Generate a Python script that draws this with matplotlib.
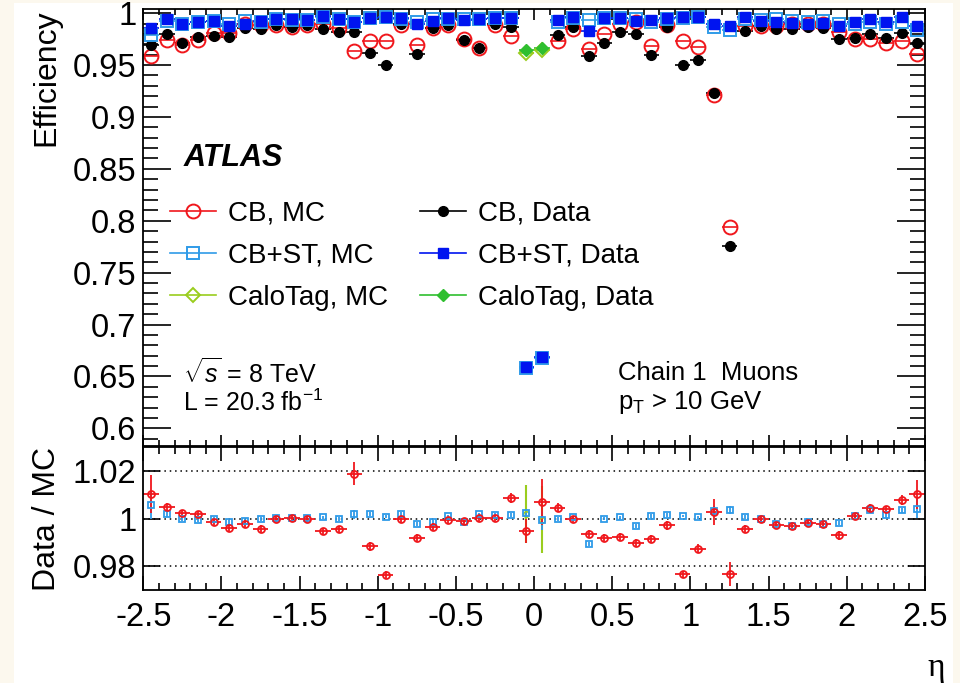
import numpy as np
import matplotlib
matplotlib.use("Agg")
import matplotlib.pyplot as plt
from matplotlib.lines import Line2D
from matplotlib.patches import Rectangle
from matplotlib.ticker import MultipleLocator, FuncFormatter

plt.rcParams['font.family'] = ['Liberation Sans', 'DejaVu Sans']
plt.rcParams['mathtext.fontset'] = 'custom'
plt.rcParams['mathtext.rm'] = 'Liberation Sans'
plt.rcParams['mathtext.it'] = 'Liberation Sans:italic'

# 50 eta bins of width 0.1, centres -2.45 ... 2.45
eta = np.round(np.arange(-2.45, 2.5, 0.1), 2)
half_bin = 0.05
nan = np.nan

# efficiencies (top panel); CB points at |eta|<0.1 are below the axis range
cb_mc = [0.959, 0.974, 0.969, 0.974, 0.9804, 0.981, 0.9897, 0.989, 0.989, 0.987,
         0.9884, 0.9897, 0.986, 0.9637, 0.9727, 0.9727, 0.9888, 0.969, 0.986, 0.9888,
         0.975, 0.966, 0.9884, 0.978, nan, nan, 0.9727, 0.985, 0.9653, 0.980,
         0.9897, 0.991, 0.9686, 0.989, 0.9727, 0.967, 0.9207, 0.794, 0.988, 0.988,
         0.988, 0.9897, 0.9897, 0.9897, 0.9817, 0.975, 0.975, 0.971, 0.9727, 0.961]
cb_data = [0.9695, 0.980, 0.9717, 0.9769, 0.978, 0.9769, 0.986, 0.9846, 0.989, 0.987,
           0.9884, 0.9846, 0.9814, 0.9817, 0.9615, 0.950, 0.9894, 0.961, 0.9856, 0.9888,
           0.9737, 0.966, 0.9897, 0.987, nan, nan, 0.979, 0.9865, 0.959, 0.971,
           0.982, 0.980, 0.9596, 0.9865, 0.950, 0.9544, 0.923, 0.776, 0.9826, 0.988,
           0.9846, 0.9846, 0.9865, 0.986, 0.9753, 0.976, 0.980, 0.976, 0.9805, 0.971]
cbst_mc = [0.979, 0.992, 0.9897, 0.9917, 0.9923, 0.9897, 0.9923, 0.9917, 0.994, 0.9936,
           0.9936, 0.9962, 0.994, 0.991, 0.9952, 0.9962, 0.9945, 0.991, 0.994, 0.9945,
           0.994, 0.994, 0.9952, 0.9952, 0.658, 0.668, 0.9917, 0.995, 0.9936, 0.9952,
           0.9952, 0.994, 0.9917, 0.9945, 0.9952, 0.996, 0.9865, 0.984, 0.994, 0.9936,
           0.994, 0.992, 0.9917, 0.992, 0.990, 0.9897, 0.9917, 0.9897, 0.9917, 0.984]
cbst_data = [0.9855, 0.9945, 0.990, 0.9917, 0.9923, 0.9878, 0.990, 0.992, 0.9945, 0.994,
             0.9936, 0.9968, 0.9945, 0.991, 0.9952, 0.9962, 0.9955, 0.990, 0.992, 0.9955,
             0.9936, 0.9945, 0.9955, 0.9955, 0.659, 0.669, 0.993, 0.996, 0.983, 0.9955,
             0.9955, 0.992, 0.9936, 0.9955, 0.9962, 0.9962, 0.9897, 0.9878, 0.9962, 0.992,
             0.991, 0.9904, 0.9897, 0.9904, 0.988, 0.9917, 0.994, 0.9917, 0.9962, 0.988]

calo_eta = [-0.05, 0.05]
calo_mc = [0.9615, 0.9645]
calo_data = [0.964, 0.966]

# data / MC ratios (bottom panel)
ratio_cb = [1.0102, 1.0049, 1.0022, 1.0021, 0.9986, 0.9962, 0.9979, 0.9958, 0.9997, 1.0003,
            1.0, 0.9948, 0.9955, 1.0189, 0.9883, 0.9764, 1.0, 0.992, 0.9966, 0.9994,
            0.999, 1.0003, 1.0004, 1.0088, 0.9947, 1.0071, 1.0046, 1.0, 0.9937, 0.992,
            0.9924, 0.9899, 0.9916, 0.9972, 0.9766, 0.9874, 1.0028, 0.9766, 0.9958, 1.0,
            0.9975, 0.9969, 0.9983, 0.9976, 0.993, 1.0011, 1.0046, 1.0039, 1.0078, 1.0102]
ratio_cb_err = [0.008, 0.0018, 0.0013, 0.0013, 0.0013, 0.0015, 0.0015, 0.0015, 0.0012, 0.0012,
                0.0012, 0.0012, 0.0015, 0.0049, 0.0018, 0.0015, 0.0012, 0.0015, 0.0015, 0.0012,
                0.0012, 0.0012, 0.0012, 0.002, 0.005, 0.0096, 0.002, 0.0012, 0.0015, 0.0015,
                0.0015, 0.0015, 0.0015, 0.0018, 0.0015, 0.0018, 0.0055, 0.005, 0.0015, 0.0015,
                0.0015, 0.0015, 0.0015, 0.0015, 0.0018, 0.0012, 0.0015, 0.0015, 0.002, 0.006]
ratio_cbst = [1.0056, 1.0018, 0.9997, 0.9994, 1.0, 0.9986, 0.9989, 1.0, 1.0001, 1.0004,
              1.0001, 1.0006, 1.0, 1.0018, 1.002, 1.0008, 1.002, 0.9976, 0.9986, 1.0011,
              0.9986, 1.0018, 1.0017, 1.0017, 1.0022, 0.9993, 1.0, 1.0007, 0.9892, 1.0,
              1.0006, 0.9969, 1.0011, 1.0014, 1.0011, 1.0006, 1.0032, 1.0036, 1.0008, 1.0,
              0.9976, 0.9969, 0.9986, 0.9976, 0.9983, 1.0011, 1.0035, 1.0014, 1.0035, 1.0042]
ratio_cbst_err = [0.0057, 0.001, 0.0008, 0.0008, 0.0008, 0.001, 0.001, 0.0008, 0.0006, 0.0006,
                  0.0006, 0.0006, 0.0008, 0.002, 0.001, 0.0006, 0.0008, 0.0008, 0.0008, 0.0006,
                  0.0006, 0.0006, 0.0006, 0.0008, 0.0015, 0.004, 0.0008, 0.0006, 0.0008, 0.0006,
                  0.0006, 0.0008, 0.0008, 0.0008, 0.0006, 0.0006, 0.002, 0.0016, 0.0008, 0.0008,
                  0.0008, 0.0006, 0.0008, 0.0008, 0.0008, 0.0008, 0.001, 0.001, 0.001, 0.004]
ratio_calo = [1.0021, 0.9996]
ratio_calo_err = [0.0122, 0.0141]

RED = '#f0171c'
BLACK = '#000000'
LBLUE = '#2f9be8'
BLUE = '#0014f0'
YGREEN = '#9acd1e'
GREEN = '#2fbf2f'


def style_axes(ax, xmaj, xmin, ymaj, ymin):
    ax.tick_params(which='both', direction='in', top=True, right=True,
                   width=1.2, labelsize=23.5, pad=5)
    ax.tick_params(axis='x', which='major', length=xmaj, pad=9)
    ax.tick_params(axis='x', which='minor', length=xmin)
    ax.tick_params(axis='y', which='major', length=ymaj)
    ax.tick_params(axis='y', which='minor', length=ymin)
    for sp in ax.spines.values():
        sp.set_linewidth(1.3)
    ax.xaxis.set_major_locator(MultipleLocator(0.5))
    ax.xaxis.set_minor_locator(MultipleLocator(0.1))
    ax.xaxis.set_major_formatter(FuncFormatter(lambda v, p: '%g' % round(v, 3)))
    ax.yaxis.set_major_formatter(FuncFormatter(lambda v, p: '%g' % round(v, 4)))


fig = plt.figure(figsize=(9.6, 6.83), dpi=100)
fig.patch.set_facecolor('#fcf8ee')
fig.patches.append(Rectangle((14 / 960, 0), 939 / 960, 680 / 683, transform=fig.transFigure,
                             facecolor='white', edgecolor='none', zorder=-1))

ax = fig.add_axes([0.1493, 0.347, 0.8142, 0.6391])
rax = fig.add_axes([0.1493, 0.1362, 0.8142, 0.2088])

# top panel
ekw = dict(xerr=half_bin, linestyle='none', capsize=0, elinewidth=1.2)
ax.errorbar(eta, cb_mc, fmt='o', color=RED, mfc='none', mec=RED, ms=10, mew=1.4, **ekw)
ax.errorbar(eta, cb_data, fmt='o', color=BLACK, ms=7, **ekw)
ax.errorbar(eta, cbst_mc, fmt='s', color=LBLUE, mfc='none', mec=LBLUE, ms=8.5, mew=1.4, **ekw)
ax.errorbar(eta, cbst_data, fmt='s', color=BLUE, ms=6.5, **ekw)
ax.errorbar(calo_eta, calo_mc, fmt='D', color=YGREEN, mfc='none', mec=YGREEN, ms=7, mew=1.4, **ekw)
ax.errorbar(calo_eta, calo_data, fmt='D', color=GREEN, ms=6, **ekw)

ax.set_xlim(-2.5, 2.5)
ax.set_ylim(0.583, 1.0035)
style_axes(ax, 8, 4.5, 20, 11)
ax.yaxis.set_major_locator(MultipleLocator(0.05))
ax.yaxis.set_minor_locator(MultipleLocator(0.01))
ax.tick_params(axis='x', labelbottom=False)
ax.set_ylabel('Efficiency', fontsize=23, loc='top', labelpad=8)

handles = [
    Line2D([], [], color=RED, marker='o', mfc='none', mec=RED, ms=10, mew=1.4, lw=1.2),
    Line2D([], [], color=LBLUE, marker='s', mfc='none', mec=LBLUE, ms=8, mew=1.4, lw=1.2),
    Line2D([], [], color=YGREEN, marker='D', mfc='none', mec=YGREEN, ms=7, mew=1.4, lw=1.2),
    Line2D([], [], color=BLACK, marker='o', ms=7, lw=1.2),
    Line2D([], [], color=BLUE, marker='s', ms=6.5, lw=1.2),
    Line2D([], [], color=GREEN, marker='D', ms=6, lw=1.2),
]
labels = ['CB, MC', 'CB+ST, MC', 'CaloTag, MC', 'CB, Data', 'CB+ST, Data', 'CaloTag, Data']
ax.legend(handles, labels, ncol=2, loc='upper left', bbox_to_anchor=(0.034, 0.562),
          frameon=False, fontsize=20, handlelength=1.65, handletextpad=0.45,
          labelspacing=0.58, columnspacing=1.13, borderpad=0, borderaxespad=0,
          numpoints=1)

ax.text(0.051, 0.66, 'ATLAS', transform=ax.transAxes, fontsize=22,
        fontweight='bold', fontstyle='italic', va='center')
ax.text(0.051, 0.167, r'$\sqrt{s}$ = 8 TeV', transform=ax.transAxes, fontsize=18, va='center')
ax.text(0.051, 0.099, r'L = 20.3 fb$^{-1}$', transform=ax.transAxes, fontsize=18, va='center')
ax.text(0.607, 0.167, 'Chain 1  Muons', transform=ax.transAxes, fontsize=18.5, va='center')
ax.text(0.607, 0.099, r'p$_{\mathrm{T}}$ > 10 GeV', transform=ax.transAxes, fontsize=18.5, va='center')

# ratio panel
for level in [0.98, 1.0, 1.02]:
    rax.axhline(level, color='black', lw=1.1, ls=(0, (1, 2.5)), zorder=0)
rax.errorbar(calo_eta, ratio_calo, yerr=ratio_calo_err, fmt='o', color=YGREEN,
             mfc='none', mec=YGREEN, ms=4, mew=1.1, capsize=0, elinewidth=1.5)
rax.errorbar(eta, ratio_cbst, yerr=ratio_cbst_err, fmt='s', color=LBLUE,
             mfc='none', mec=LBLUE, ms=5, mew=1.3, capsize=0, elinewidth=1.3)
rax.errorbar(eta, ratio_cb, xerr=half_bin, yerr=ratio_cb_err, fmt='o', color=RED,
             mfc='none', mec=RED, ms=5, mew=1.3, capsize=0, elinewidth=1.3)
rax.set_xlim(-2.5, 2.5)
rax.set_ylim(0.97, 1.03)
style_axes(rax, 10, 5, 12, 6)
rax.yaxis.set_major_locator(MultipleLocator(0.02))
rax.yaxis.set_minor_locator(MultipleLocator(0.02))
rax.set_ylabel('Data / MC', fontsize=23, labelpad=8)

fig.text(936 / 960, 1 - 668 / 683, 'η', fontsize=24, ha='center', va='center',
         family=['Liberation Serif', 'DejaVu Serif'])

fig.savefig('out.png', dpi=100, facecolor=fig.get_facecolor())
